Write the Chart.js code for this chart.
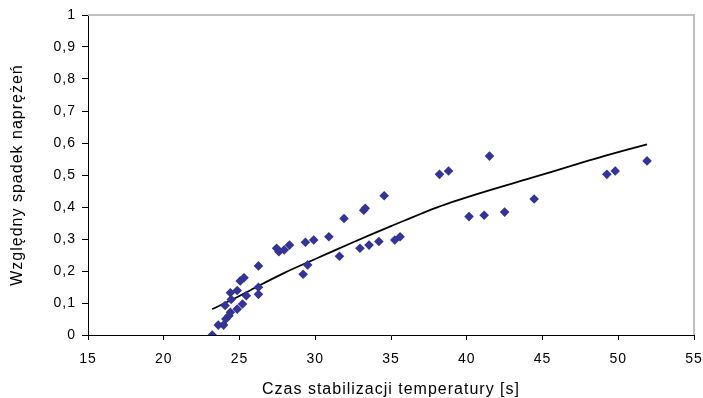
<!DOCTYPE html>
<html>
<head>
<meta charset="utf-8">
<script src="https://cdn.jsdelivr.net/npm/chart.js@4"></script>
<style>
  html, body { margin: 0; padding: 0; background: #fff; }
  #wrap { width: 703px; height: 398px; }
</style>
</head>
<body>
<div id="wrap"><canvas id="chart"></canvas></div>
<script>
// measured points (czas [s], spadek)
const czas = [23.2, 23.6, 23.95, 24.1, 24.3, 24.4, 24.05, 24.45, 24.4, 24.85, 24.85, 25.2, 25.45, 25.05, 25.3,
  26.25, 26.25, 26.25, 27.45, 27.6, 27.95, 28.3, 29.2, 29.5, 29.35, 29.9, 30.9, 31.6, 31.9, 33.2, 33.3,
  32.95, 33.55, 34.2, 34.55, 35.25, 35.6, 38.2, 38.8, 40.15, 41.15, 41.5, 42.5, 44.45, 49.25, 49.8, 51.9];
const spadek = [0.0, 0.031, 0.031, 0.05, 0.06, 0.071, 0.092, 0.111, 0.132, 0.139, 0.081, 0.097, 0.123, 0.169, 0.179,
  0.216, 0.149, 0.127, 0.271, 0.26, 0.266, 0.281, 0.19, 0.219, 0.29, 0.297, 0.307, 0.246, 0.364, 0.39, 0.396,
  0.271, 0.281, 0.292, 0.435, 0.297, 0.307, 0.502, 0.5125, 0.37, 0.374, 0.559, 0.384, 0.425, 0.502, 0.5125, 0.544];

// trend line
const trendX = [23.2, 24.5, 26.15, 28, 30, 32.5, 35, 38.05, 41, 44.2, 47, 49.05, 51.9];
const trendY = [0.081, 0.11, 0.151, 0.195, 0.2375, 0.29, 0.34, 0.399, 0.445, 0.49, 0.53, 0.559, 0.596];

const xTitle = 'Czas stabilizacji temperatury [s]';
const yTitle = 'Względny spadek naprężeń';

const FONT = 'Liberation Sans, Arial, sans-serif';

// grey top/right frame + a bit of letter spacing like the original
const frame = {
  id: 'frame',
  beforeDraw(chart) {
    chart.ctx.letterSpacing = '1px';
  },
  afterDraw(chart) {
    const a = chart.chartArea, c = chart.ctx;
    c.save();
    c.strokeStyle = '#c0c0c0';
    c.lineWidth = 2;
    c.beginPath();
    c.moveTo(a.left, a.top);
    c.lineTo(a.right, a.top);
    c.lineTo(a.right, a.bottom);
    c.stroke();
    c.restore();
  }
};

new Chart(document.getElementById('chart').getContext('2d'), {
  type: 'scatter',
  data: {
    datasets: [{
      label: 'pomiar',
      data: czas.map((x, i) => ({ x: x, y: spadek[i] })),
      pointStyle: 'rectRot',
      pointRadius: 4.8,
      backgroundColor: '#333399',
      borderColor: '#333399',
      borderWidth: 0
    }, {
      label: 'trend',
      type: 'line',
      data: trendX.map((x, i) => ({ x: x, y: trendY[i] })),
      borderColor: '#000',
      borderWidth: 1.8,
      pointRadius: 0,
      tension: 0.3,
      fill: false
    }]
  },
  options: {
    responsive: true,
    maintainAspectRatio: false,
    animation: false,
    layout: { padding: { left: 0, right: 9, top: 15, bottom: 0 } },
    plugins: { legend: { display: false }, tooltip: { enabled: false } },
    scales: {
      x: {
        type: 'linear',
        min: 15, max: 55,
        ticks: { stepSize: 5, color: '#000', font: { family: FONT, size: 14 }, padding: 11 },
        grid: { drawOnChartArea: false, tickLength: 5, color: '#000' },
        border: { color: '#000', width: 1 },
        title: { display: true, text: xTitle, color: '#000', font: { family: FONT, size: 16, lineHeight: 1 }, padding: { top: 0, bottom: 0 } },
        afterFit(s) { s.height = 63; s.paddingLeft = 0; s.paddingRight = 0; }
      },
      y: {
        min: 0, max: 1,
        ticks: {
          stepSize: 0.1, color: '#000', font: { family: FONT, size: 14 }, padding: 6,
          callback: v => (Math.round(v * 10) / 10).toString().replace('.', ',')
        },
        grid: { drawOnChartArea: false, tickLength: 6, color: '#000' },
        border: { color: '#000', width: 1 },
        title: { display: true, text: yTitle, color: '#000', font: { family: FONT, size: 16 }, padding: { top: 8, bottom: 0 } },
        afterFit(s) { s.width = 88; s.paddingTop = 0; s.paddingBottom = 0; }
      }
    }
  },
  plugins: [frame]
});
</script>
</body>
</html>
